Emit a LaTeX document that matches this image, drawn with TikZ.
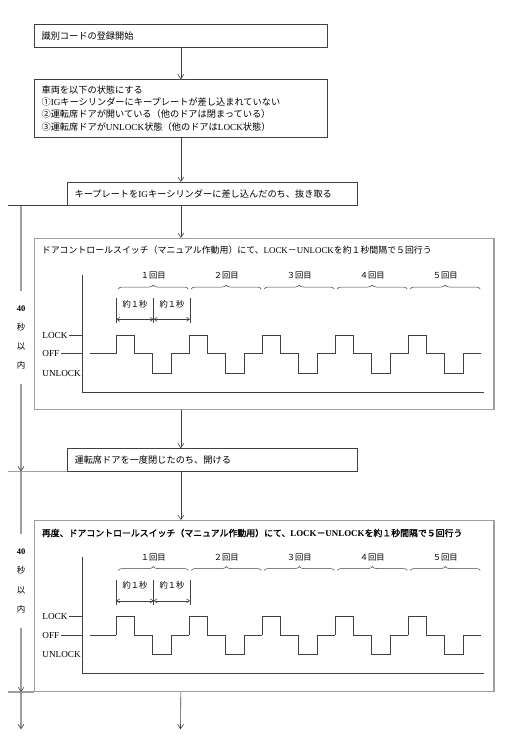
\documentclass[tikz,border=0pt]{standalone}
\usepackage{fontspec}
\setmainfont{Liberation Serif}
\newfontfamily\jp{Noto Sans CJK JP}
\newfontfamily\jpbold{Noto Sans CJK JP}[FakeBold=1.5]
\usepackage{tikz}
\usetikzlibrary{arrows.meta, positioning, calc, decorations.pathreplacing}
\newcommand{\lt}[1]{{\rmfamily #1}}
\newcommand{\ltb}[1]{{\rmfamily\bfseries #1}}
\definecolor{linedark}{gray}{0.25}
\definecolor{linegray}{gray}{0.62}
\tikzstyle{stepbox} = [rectangle, draw=linedark, line width=0.7pt, anchor=north west, align=left, inner xsep=7.5pt, font=\jp\fontsize{9.2}{12.2}\selectfont]
\tikzstyle{framebox} = [rectangle, draw=linegray, line width=1.4pt, anchor=north west]
\tikzstyle{title} = [anchor=west, inner sep=0pt, font=\jp\fontsize{8.9}{11}\selectfont]
\tikzstyle{flow} = [linedark, line width=0.6pt, -{Straight Barb[length=4.5pt,width=6pt]}]
\tikzstyle{timeline} = [linegray, line width=1.4pt]
\tikzstyle{tarrow} = [-{Straight Barb[length=4.5pt,width=6pt,line width=0.6pt,color=linedark]}]
\tikzstyle{limitlabel} = [align=center, inner sep=0pt, minimum height=93pt, font=\jp\fontsize{8.5}{19.3}\selectfont]
\tikzstyle{statelabel} = [anchor=west, inner sep=1.5pt, font=\fontsize{9.2}{10}\selectfont]
\tikzstyle{wave} = [linedark, line width=0.7pt]
\tikzstyle{small} = [inner sep=0pt, font=\jp\fontsize{8.3}{10}\selectfont]
\tikzstyle{dim} = [wave, line width=0.6pt, {Straight Barb[length=3pt,width=4pt]}-{Straight Barb[length=3pt,width=4pt]}]

\begin{document}
\begin{tikzpicture}[x=1pt, y=-1pt]
    \useasboundingbox (0,0) rectangle (504,749);

    % Flow steps
    \node (start) [stepbox, text width=278.6pt, minimum height=23pt] at (33.7,24.3) {識別コードの登録開始};
    \node (cond) [stepbox, text width=278.6pt, minimum height=57.4pt] at (33.7,79.3)
        {車両を以下の状態にする\\
         ①\lt{IG}キーシリンダーにキープレートが差し込まれていない\\
         ②運転席ドアが開いている（他のドアは閉まっている）\\
         ③運転席ドアが\lt{UNLOCK}状態（他のドアは\lt{LOCK}状態）};
    \node (key) [stepbox, text width=275pt, minimum height=23pt] at (66.7,182) {キープレートを\lt{IG}キーシリンダーに差し込んだのち、抜き取る};
    \node (op1) [framebox, minimum width=459.6pt, minimum height=171pt] at (33.7,238) {};
    \node (op1text) [title] at (41.7,250) {ドアコントロールスイッチ（マニュアル作動用）にて、\lt{LOCK}－\lt{UNLOCK}を約１秒間隔で５回行う};
    \node (door) [stepbox, text width=275pt, minimum height=22.4pt] at (66.7,448.3) {運転席ドアを一度閉じたのち、開ける};
    \node (op2) [framebox, minimum width=459.6pt, minimum height=170.7pt] at (33.7,520) {};
    \node (op2text) [title, font=\jpbold\fontsize{8.9}{11}\selectfont] at (41.7,533) {再度、ドアコントロールスイッチ（マニュアル作動用）にて、\ltb{LOCK}－\ltb{UNLOCK}を約１秒間隔で５回行う};

    % Timing charts (same for both operations)
    \foreach \dy/\nm in {0/a, 281.5/b} {
        \begin{scope}[yshift=-\dy pt]
            \draw [wave] (82.7,275) -- (82.7,392.3) -- (483.7,392.3);
            \node (lock\nm) [statelabel] at (40.7,335) {LOCK};
            \node (off\nm) [statelabel] at (40.7,353.7) {OFF};
            \node (unlock\nm) [statelabel] at (40.7,373.3) {UNLOCK};
            \draw [wave] (lock\nm.east) -- (82.7,335);
            \draw [wave] (off\nm.east) -- (82.7,353.7);
            \draw [wave] (90,353.7) -- (116.3,353.7);
            \foreach \k/\n in {0/１, 1/２, 2/３, 3/４, 4/５} {
                \pgfmathsetmacro{\x}{116.3+73*\k}
                \draw [wave] (\x,353.7) -- ++(0,-18.7) -- ++(18.25,0) -- ++(0,18.7) -- ++(18.25,0)
                    -- ++(0,19.6) -- ++(18.25,0) -- ++(0,-19.6) -- ++(18.25,0);
                \draw [wave, line width=0.5pt, decorate, decoration={brace, amplitude=4pt}] (\x+2,289) -- (\x+72,289);
                \node (round\nm\k) [small] at (\x+37,276) {\n 回目};
            }
            \draw [wave, line width=0.6pt] (116.3,298) -- (116.3,323);
            \draw [wave, line width=0.6pt] (153.7,298) -- (153.7,323);
            \draw [wave, line width=0.6pt] (190,298) -- (190,323);
            \draw [dim] (116.3,319.3) -- (153.7,319.3);
            \draw [dim] (153.7,319.3) -- (190,319.3);
            \node (sec\nm1) [small] at (135,304) {約１秒};
            \node (sec\nm2) [small] at (172,304) {約１秒};
        \end{scope}
    }

    % Time limits
    \coordinate (edge) at (8,0);
    \node (lim1) [limitlabel] at (21,337.5) {\ltb{40}\\秒\\以\\内};
    \node (lim2) [limitlabel] at (21,581) {\ltb{40}\\秒\\以\\内};
    \coordinate (stop) at (21,729.3);

    \draw [linedark, line width=0.7pt] (key.south west) -- (key.south west -| edge);
    \draw [timeline] (door.south west) -- (door.south west -| edge);
    \draw [timeline] (op2.south west) -- (op2.south west -| edge);
    \draw [timeline] (lim1.north |- key.south) -- (lim1.north);
    \draw [timeline, tarrow] (lim1.south) -- (lim1.south |- door.south);
    \draw [timeline] (lim1.south |- door.south) -- (lim2.north);
    \draw [timeline, tarrow] (lim2.south) -- (lim2.south |- op2.south);
    \draw [timeline, tarrow] (lim2.south |- op2.south) -- (stop);

    % Arrows
    \coordinate (next) at (180.5,729.3);
    \draw [flow] (start.south) -- (cond.north);
    \draw [flow] (cond.south) -- (cond.south |- key.north);
    \draw [flow] (cond.south |- key.south) -- (cond.south |- op1.north);
    \draw [flow] (cond.south |- op1.south) -- (cond.south |- door.north);
    \draw [flow] (cond.south |- door.south) -- (cond.south |- op2.north);
    \draw [flow] (cond.south |- op2.south) -- (next);

\end{tikzpicture}
\end{document}
